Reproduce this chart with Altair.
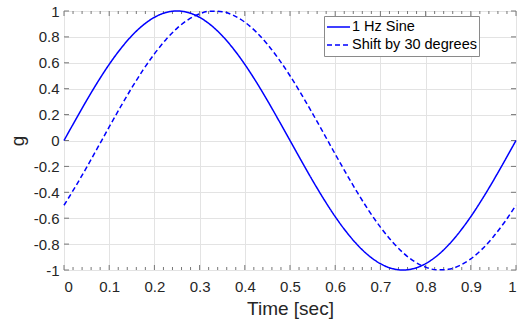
import altair as alt
import pandas as pd

t = [0, 0.025, 0.05, 0.075, 0.1, 0.125, 0.15, 0.175, 0.2, 0.225, 0.25, 0.275, 0.3, 0.325, 0.35,
     0.375, 0.4, 0.425, 0.45, 0.475, 0.5, 0.525, 0.55, 0.575, 0.6, 0.625, 0.65, 0.675, 0.7,
     0.725, 0.75, 0.775, 0.8, 0.825, 0.85, 0.875, 0.9, 0.925, 0.95, 0.975, 1.0]
sine = [0, 0.156, 0.309, 0.454, 0.588, 0.707, 0.809, 0.891, 0.951, 0.988, 1.0, 0.988, 0.951, 0.891,
        0.809, 0.707, 0.588, 0.454, 0.309, 0.156, 0, -0.156, -0.309, -0.454, -0.588, -0.707,
        -0.809, -0.891, -0.951, -0.988, -1.0, -0.988, -0.951, -0.891, -0.809, -0.707, -0.588,
        -0.454, -0.309, -0.156, 0]
shifted = [-0.5, -0.358, -0.208, -0.052, 0.105, 0.259, 0.407, 0.545, 0.669, 0.777, 0.866, 0.934,
           0.978, 0.999, 0.995, 0.966, 0.914, 0.839, 0.743, 0.629, 0.5, 0.358, 0.208, 0.052,
           -0.105, -0.259, -0.407, -0.545, -0.669, -0.777, -0.866, -0.934, -0.978, -0.999,
           -0.995, -0.966, -0.914, -0.839, -0.743, -0.629, -0.5]
series_names = ["1 Hz Sine", "Shift by 30 degrees"]

x_major = [0, 0.1, 0.2, 0.3, 0.4, 0.5, 0.6, 0.7, 0.8, 0.9, 1.0]
x_minor = [0.02, 0.04, 0.06, 0.08, 0.12, 0.14, 0.16, 0.18, 0.22, 0.24, 0.26, 0.28,
           0.32, 0.34, 0.36, 0.38, 0.42, 0.44, 0.46, 0.48, 0.52, 0.54, 0.56, 0.58,
           0.62, 0.64, 0.66, 0.68, 0.72, 0.74, 0.76, 0.78, 0.82, 0.84, 0.86, 0.88,
           0.92, 0.94, 0.96, 0.98]
y_major = [-1, -0.8, -0.6, -0.4, -0.2, 0, 0.2, 0.4, 0.6, 0.8, 1]

W, H = 452, 259
FONT = "Liberation Sans"
AX_COL = "#777777"
GRID_COL = "#e3e3e3"
BLUE = "#0000ff"
LBL = "datum.value < 0 ? '-' + format(-datum.value, '~g') : format(datum.value, '~g')"

lines = pd.DataFrame({
    "t": t * 2,
    "g": sine + shifted,
    "series": [series_names[0]] * len(t) + [series_names[1]] * len(t),
})

x_scale = alt.Scale(domain=[0, 1], nice=False)
y_scale = alt.Scale(domain=[-1, 1], nice=False)

x_axis = alt.Axis(values=x_major, grid=True, gridColor=GRID_COL, ticks=False, domain=False,
                  labelFont=FONT, labelFontSize=15, labelColor="#262626", labelPadding=9,
                  title="Time [sec]", titleFont=FONT, titleFontSize=19, titleFontWeight="normal",
                  titleColor="#262626", titlePadding=5, labelExpr=LBL)
y_axis = alt.Axis(values=y_major, grid=True, gridColor=GRID_COL, ticks=False, domain=False,
                  labelFont=FONT, labelFontSize=15, labelColor="#262626", labelPadding=5,
                  title="g", titleFont=FONT, titleFontSize=19, titleFontWeight="normal",
                  titleColor="#262626", titlePadding=6, labelExpr=LBL)

X = lambda f: alt.X(f, type="quantitative", scale=x_scale, axis=x_axis)
Y = lambda f: alt.Y(f, type="quantitative", scale=y_scale, axis=y_axis)

legend = alt.Legend(orient="none", legendX=260, legendY=5, title=None,
                    strokeColor="#8a8a8a", fillColor="white", padding=2,
                    labelFont=FONT, labelFontSize=14.5, labelColor="#000000",
                    symbolType="stroke", symbolSize=529, symbolStrokeWidth=1.5,
                    labelOffset=1, rowPadding=0, clipHeight=18)

line_layer = alt.Chart(lines).mark_line(strokeWidth=1.5, interpolate="monotone").encode(
    x=X("t"),
    y=Y("g"),
    color=alt.Color("series:N", scale=alt.Scale(domain=series_names, range=[BLUE, BLUE]),
                    legend=legend),
    strokeDash=alt.StrokeDash("series:N", scale=alt.Scale(domain=series_names, range=[[1, 0], [5, 3]]),
                              legend=legend),
)

xmaj = pd.DataFrame({"xt": x_major})
xmin = pd.DataFrame({"xt": x_minor})
ymaj = pd.DataFrame({"yt": y_major})

def xticks(df, length):
    bot = alt.Chart(df).mark_rule(color=AX_COL, strokeWidth=1).encode(
        x=X("xt"), y=alt.value(H), y2=alt.value(H - length))
    top = alt.Chart(df).mark_rule(color=AX_COL, strokeWidth=1).encode(
        x=X("xt"), y=alt.value(0), y2=alt.value(length))
    return [bot, top]

ylt = alt.Chart(ymaj).mark_rule(color=AX_COL, strokeWidth=1).encode(
    y=Y("yt"), x=alt.value(0), x2=alt.value(5))
yrt = alt.Chart(ymaj).mark_rule(color=AX_COL, strokeWidth=1).encode(
    y=Y("yt"), x=alt.value(W), x2=alt.value(W - 5))

chart = alt.layer(
    *xticks(xmaj, 5), *xticks(xmin, 3), ylt, yrt, line_layer
).properties(
    width=W, height=H,
    padding={"left": 64, "top": 11, "right": 3, "bottom": 55},
    autosize=alt.AutoSizeParams(type="none"),
).configure_view(stroke=AX_COL, strokeWidth=1).configure(background="white")

chart.save("out.html", embed_options={"renderer": "svg", "actions": False})
